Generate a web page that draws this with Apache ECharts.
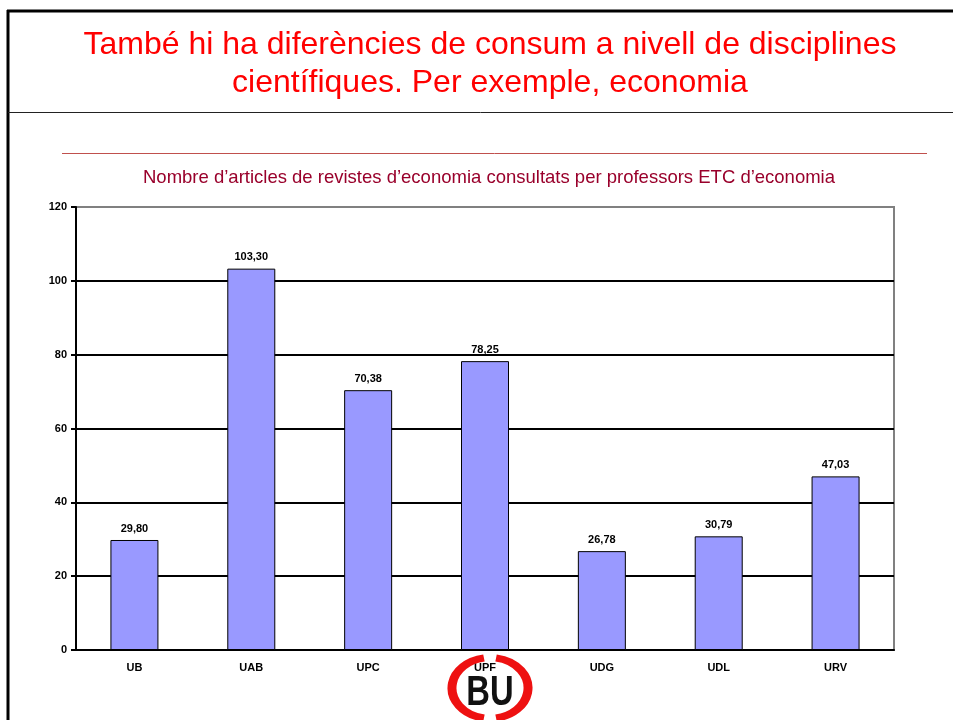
<!DOCTYPE html>
<html>
<head>
<meta charset="utf-8">
<script src="https://cdn.jsdelivr.net/npm/echarts@6/dist/echarts.min.js"></script>
<style>
  html, body { margin: 0; padding: 0; background: #fff; }
  #chart { width: 953px; height: 720px; }
</style>
</head>
<body>
<div id="chart"></div>
<script>
// universitats i articles consultats per professor ETC
const universitats = ['UB', 'UAB', 'UPC', 'UPF', 'UDG', 'UDL', 'URV']
const articles = [29.80, 103.30, 70.38, 78.25, 26.78, 30.79, 47.03]
const yTicks = [0, 20, 40, 60, 80, 100, 120]

const chart = echarts.init(document.getElementById('chart'))

const fmt = v => v.toFixed(2).replace('.', ',')

const option = {
    animation: false,
    backgroundColor: '#fff',
    title: [
        {
            text: 'També hi ha diferències de consum a nivell de disciplines\ncientífiques. Per exemple, economia',
            left: 485,
            textAlign: 'center',
            top: 21,
            textStyle: {
                color: '#ff0000',
                fontFamily: 'Liberation Sans',
                fontSize: 32,
                fontWeight: 'normal',
                lineHeight: 38
            }
        },
        {
            text: 'Nombre d\u2019articles de revistes d\u2019economia consultats per professors ETC d\u2019economia',
            left: 484,
            textAlign: 'center',
            top: 163,
            textStyle: {
                color: '#99002b',
                fontFamily: 'Liberation Sans',
                fontSize: 18.5,
                fontWeight: 'normal'
            }
        }
    ],
    grid: {
        left: 76,
        right: 59,
        top: 207,
        bottom: 70,
        show: true,
        borderColor: '#808080',
        borderWidth: 2
    },
    xAxis: {
        type: 'category',
        data: universitats,
        axisLine: { lineStyle: { color: '#000', width: 2 } },
        axisTick: { length: 5, lineStyle: { color: '#000', width: 2 } },
        axisLabel: {
            color: '#000',
            fontFamily: 'Liberation Sans',
            fontWeight: 'bold',
            fontSize: 11,
            margin: 12
        }
    },
    yAxis: {
        type: 'value',
        min: 0,
        max: 120,
        interval: 20,
        axisLine: { show: true, lineStyle: { color: '#000', width: 2 } },
        axisTick: { show: true, length: 5, lineStyle: { color: '#000', width: 2 } },
        axisLabel: {
            color: '#000',
            fontFamily: 'Liberation Sans',
            fontWeight: 'bold',
            fontSize: 11,
            margin: 9,
            formatter: v => yTicks.indexOf(v) >= 0 ? String(v) : ''
        },
        splitLine: {
            lineStyle: {
                color: ['#000', '#000', '#000', '#000', '#000', '#000', '#808080'],
                width: 2
            }
        }
    },
    series: [
        {
            type: 'bar',
            data: articles,
            barWidth: 48,
            itemStyle: { color: '#9999ff', borderColor: '#000', borderWidth: 1 },
            label: {
                show: true,
                position: 'top',
                distance: 6,
                color: '#000',
                fontFamily: 'Liberation Sans',
                fontWeight: 'bold',
                fontSize: 11,
                formatter: p => fmt(p.value)
            }
        }
    ],
    graphic: [
        // marc de la diapositiva
        { type: 'line', shape: { x1: 8, y1: 10, x2: 8, y2: 720 }, style: { stroke: '#000', lineWidth: 3 } },
        { type: 'line', shape: { x1: 7, y1: 11, x2: 953, y2: 11 }, style: { stroke: '#000', lineWidth: 3 } },
        { type: 'line', shape: { x1: 8, y1: 112.5, x2: 953, y2: 112.5 }, style: { stroke: '#222', lineWidth: 1 } },
        { type: 'line', shape: { x1: 62, y1: 153.5, x2: 927, y2: 153.5 }, style: { stroke: '#c0504d', lineWidth: 1 } },
        // logotip BU
        {
            type: 'arc',
            x: 490, y: 688, scaleY: 0.8,
            shape: { cx: 0, cy: 0, r: 38, startAngle: Math.PI * 0.5 + 0.16, endAngle: Math.PI * 1.5 - 0.16 },
            style: { stroke: '#ee1111', lineWidth: 9, fill: null },
            z: 100
        },
        {
            type: 'arc',
            x: 490, y: 688, scaleY: 0.8,
            shape: { cx: 0, cy: 0, r: 38, startAngle: -Math.PI * 0.5 + 0.16, endAngle: Math.PI * 0.5 - 0.16 },
            style: { stroke: '#ee1111', lineWidth: 9, fill: null },
            z: 100
        },
        {
            type: 'text',
            x: 490, y: 693, scaleX: 0.78,
            style: {
                text: 'BU',
                fill: '#111',
                font: 'bold 42px "Liberation Sans"',
                align: 'center',
                verticalAlign: 'middle'
            },
            z: 100
        }
    ]
}

chart.setOption(option)
</script>
</body>
</html>
